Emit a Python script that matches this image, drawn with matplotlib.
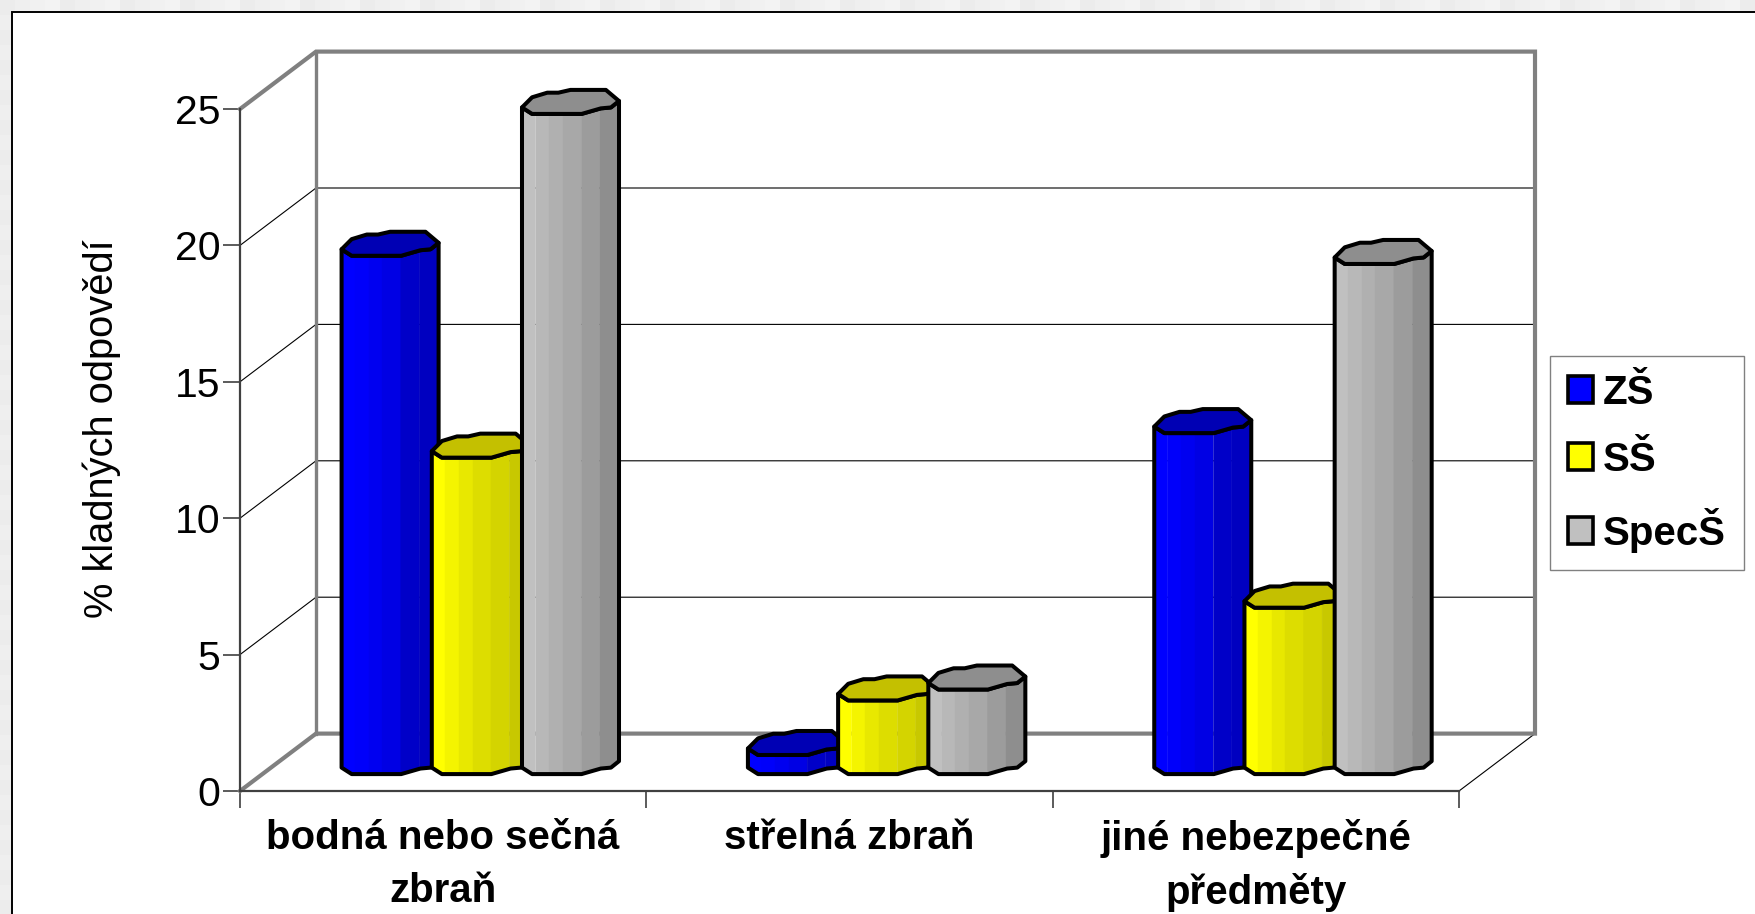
"""
3D-look cylinder bars, % of positive answers by school type
"""

import numpy as np
import matplotlib
matplotlib.use("Agg")
import matplotlib.pyplot as plt
from matplotlib.patches import Patch, Polygon, Rectangle

plt.rcParams["font.family"] = ["Liberation Sans", "DejaVu Sans"]

# ─────────────────────────────────────────────
categories = ["bodná nebo sečná\nzbraň", "střelná zbraň", "jiné nebezpečné\npředměty"]
series = ["ZŠ", "SŠ", "SpecŠ"]
zs = [19.0, 0.7, 12.5]
ss = [11.6, 2.7, 6.1]
spec = [24.2, 3.1, 18.7]
y_ticks = [0, 5, 10, 15, 20, 25]
y_label = "% kladných odpovědí"

front_colors = {
    "ZŠ": ["#0000ff", "#0000fa", "#0000f0", "#0000e4", "#0000c8", "#0000c0"],
    "SŠ": ["#ffff00", "#f4f400", "#e8e800", "#dddd00", "#d4d400", "#c8c800"],
    "SpecŠ": ["#c0c0c0", "#b8b8b8", "#b0b0b0", "#a8a8a8", "#9c9c9c", "#8e8e8e"],
}
top_colors = {"ZŠ": "#0000b4", "SŠ": "#c4c000", "SpecŠ": "#8e8e8e"}
swatch_colors = {"ZŠ": "#0000ff", "SŠ": "#ffff00", "SpecŠ": "#c0c0c0"}

# page geometry in pixels
W, H = 1756, 914
AX_L, AX_R, AX_B, AX_T = 240, 1459, 791, 109
FRAME = 12
WALL = "#808080"

# depth of the box, in data units
DX = 76 / 406.3
DY = 57.4 / 27.28

# bar footprint (fractions of width / depth), front chain left to right
FRONT_U = np.array([0, 10, 59, 78, 88, 96]) / 96
FRONT_V = np.array([7, 0, 0, 6, 7, 14]) / 26
BACK_U = np.array([83, 48, 36, 25, 10]) / 96
BACK_V = np.array([26, 26, 23, 23, 18]) / 26
STRIPS = np.array([0, 0.14, 0.28, 0.42, 0.61, 0.8, 1.0])

BAR_W = 97 / 406.3
BAR_D = 24 / 27.28
BAR_STEP = 0.222
BAR_START = 0.25
BASE = 0.62


def draw_bar(ax, x0, value, name, z):
    top = BASE + value
    # shaded side, strip by strip
    for i, col in enumerate(front_colors[name]):
        u = np.linspace(STRIPS[i], STRIPS[i + 1], 8)
        v = np.interp(u, FRONT_U, FRONT_V) * BAR_D
        xs = x0 + u * BAR_W
        pts = np.r_[np.c_[xs, top + v], np.c_[xs[::-1], BASE + v[::-1]]]
        ax.add_patch(Polygon(pts, closed=True, fc=col, ec=col, lw=0.3, zorder=z, clip_on=False))

    # black outline round body
    fx = x0 + FRONT_U * BAR_W
    fv = FRONT_V * BAR_D
    outline = np.r_[np.c_[fx, top + fv], np.c_[fx[::-1], BASE + fv[::-1]]]
    ax.add_patch(Polygon(outline, closed=True, fc="none", ec="black", lw=2.9, zorder=z, clip_on=False,
                         joinstyle="round"))

    # lid
    lid_x = np.r_[FRONT_U, BACK_U] * BAR_W + x0
    lid_y = np.r_[FRONT_V, BACK_V] * BAR_D + top
    ax.add_patch(Polygon(np.c_[lid_x, lid_y], closed=True, fc=top_colors[name], ec="black", lw=2.9,
                         zorder=z, clip_on=False, joinstyle="round"))


def main():
    fig = plt.figure(figsize=(W / 100, H / 100), dpi=100, facecolor="#f1f1f1")

    # faint tiled page background, only shows around the frame
    cols = (np.arange(W) // 15) % 4
    rows = (np.arange(H) // 15) % 2
    tile = 0.925 + 0.01 * cols[None, :] + 0.012 * rows[:, None]
    fig.figimage(tile, cmap="gray", vmin=0, vmax=1, zorder=-2)
    fig.add_artist(Rectangle((FRAME / W, -0.01), 1.01, 1.01 - FRAME / H, transform=fig.transFigure,
                             fc="white", ec="black", lw=1.4, zorder=-1))

    ax = fig.add_axes([AX_L / W, 1 - AX_B / H, (AX_R - AX_L) / W, (AX_B - AX_T) / H])
    ax.set_xlim(0, 3)
    ax.set_ylim(0, 25)
    ax.patch.set_visible(False)
    for s in ["top", "right"]:
        ax.spines[s].set_visible(False)
    for s in ["left", "bottom"]:
        ax.spines[s].set_color("#404040")
        ax.spines[s].set_linewidth(1.6)

    # box: gridlines on back wall and side wall
    for t in y_ticks[1:-1]:
        ax.plot([0, DX, 3 + DX], [t, t + DY, t + DY], color="black", lw=0.8, clip_on=False, zorder=1)
    ax.plot([3, 3 + DX], [0, DY], color="black", lw=0.8, clip_on=False, zorder=1)
    ax.plot([0, DX, 3 + DX, 3 + DX, DX, 0], [25, 25 + DY, 25 + DY, DY, DY, 0],
            color=WALL, lw=3, clip_on=False, zorder=2, solid_joinstyle="miter")
    ax.plot([DX, DX], [DY, 25 + DY], color=WALL, lw=2.4, clip_on=False, zorder=2)

    # bars
    z = 3
    for i in range(len(categories)):
        for j, (name, vals) in enumerate(zip(series, [zs, ss, spec])):
            draw_bar(ax, i + BAR_START + j * BAR_STEP, vals[i], name, z)
            z += 1

    ax.set_yticks(y_ticks)
    ax.tick_params(axis="y", length=12, width=1.2, color="#404040", labelsize=29.5, pad=2)
    ax.set_xticks([0, 1, 2, 3], labels=[])
    ax.tick_params(axis="x", which="major", length=12, width=1.2, color="#404040")
    ax.set_xticks([0.5, 1.5, 2.5], labels=categories, minor=True, fontweight="bold", fontsize=29)
    ax.tick_params(axis="x", which="minor", length=0, pad=20)
    for lab in ax.get_xticklabels(minor=True):
        lab.set_linespacing(1.5)

    ax.set_ylabel(y_label, fontsize=28.7)
    ax.yaxis.set_label_coords(-0.098, 0.531)

    handles = [Patch(fc=swatch_colors[n], ec="black", lw=2.6) for n in series]
    ax.legend(handles, series, loc="upper left", bbox_to_anchor=(1550 / W, 1 - 356 / H),
              bbox_transform=fig.transFigure, fancybox=False, framealpha=1, edgecolor="#808080",
              prop={"weight": "bold", "size": 29}, borderaxespad=0, handlelength=0.62,
              handleheight=0.67, handletextpad=0.26, labelspacing=0.72, borderpad=0.44)

    fig.savefig("out.png", dpi=100, facecolor=fig.get_facecolor())


if __name__ == "__main__":
    main()
